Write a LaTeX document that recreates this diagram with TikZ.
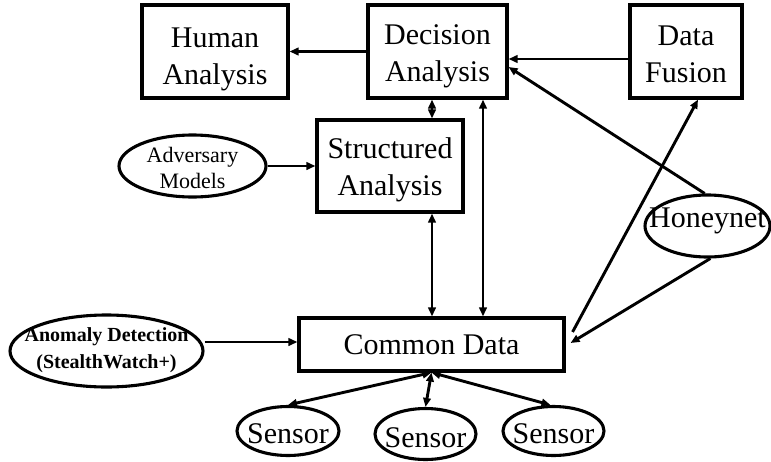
\documentclass[tikz,border=0pt]{standalone}
\usepackage{fontspec}
\setmainfont{Liberation Serif}
\usetikzlibrary{shapes.geometric,arrows.meta,calc}
\begin{document}
\begin{tikzpicture}[x=1pt,y=-1pt,
  box/.style={draw, line width=3.1pt, rectangle, align=center, inner sep=0pt, font=\fontsize{30}{37}\selectfont},
  ell/.style={draw, line width=3.1pt, ellipse, inner sep=0pt},
  lbl/.style={align=center, inner sep=0pt},
  arr/.style={line width=2.9pt, -{Triangle[length=9pt,width=7.5pt]}},
  biarr/.style={line width=2.9pt, {Triangle[length=9pt,width=7.5pt]}-{Triangle[length=9pt,width=7.5pt]}},
]
\fill[white] (0,0) rectangle (771,461);
\useasboundingbox (0,0) rectangle (771,461);

% boxes
\node[box, minimum width=146pt, minimum height=93pt] (hum) at (215,51.5) {\rule{0pt}{36pt}Human\\Analysis\rule[-6pt]{0pt}{6pt}};
\node[box, minimum width=139pt, minimum height=93pt] (dec) at (437.5,51.5) {\rule{0pt}{30pt}Decision\\Analysis\rule[-6pt]{0pt}{6pt}};
\node[box, minimum width=112pt, minimum height=93pt] (fus) at (686,51.5) {\rule{0pt}{30pt}Data\\Fusion\rule[-6pt]{0pt}{6pt}};
\node[box, minimum width=146pt, minimum height=92pt] (str) at (390,166) {\rule{0pt}{29pt}Structured\\Analysis\rule[-6pt]{0pt}{6pt}};
\node[box, minimum width=265pt, minimum height=53pt] (cd) at (431.5,344.5) {Common Data};

% ellipses
\node[ell, minimum width=147pt, minimum height=62pt] (adv) at (192.5,166) {};
\node[lbl, font=\fontsize{22}{26}\selectfont] (advT) at (192.5,168) {Adversary\\Models};
\node[ell, minimum width=125pt, minimum height=62pt] (hon) at (707.5,226) {};
\node[lbl, font=\fontsize{30}{36}\selectfont] (honT) at (707.5,220.5) {Honeynet};
\node[ell, minimum width=193pt, minimum height=72pt] (ano) at (106.5,351) {};
\node[lbl, font=\bfseries\fontsize{20}{27}\selectfont] (anoT) at (106.5,350.5) {Anomaly Detection\\(StealthWatch+)};
\node[ell, minimum width=102pt, minimum height=49pt] (s1) at (288,431) {};
\node[ell, minimum width=101pt, minimum height=51pt] (s2) at (425.5,434) {};
\node[ell, minimum width=101pt, minimum height=49pt] (s3) at (553.5,431) {};
\node[lbl, font=\fontsize{30}{36}\selectfont] (s1T) at (288,433.5) {Sensor};
\node[lbl, font=\fontsize{30}{36}\selectfont] (s2T) at (425.5,437.5) {Sensor};
\node[lbl, font=\fontsize{30}{36}\selectfont] (s3T) at (553.5,433.5) {Sensor};

% connectors
\draw[arr] (dec.west) -- (hum.east);
\draw[arr] ([yshift=-7.5pt]fus.west) -- ([yshift=-7.5pt]dec.east);
\draw[biarr] ([xshift=42pt]str.north) -- ([xshift=42pt]str.north |- dec.south);
\draw[biarr] ([xshift=42pt]str.south) -- ([xshift=42pt]str.south |- cd.north);
\draw[biarr] ([xshift=45.5pt]dec.south) -- ([xshift=45.5pt]dec.south |- cd.north);
\draw[arr] (adv.east) -- (str.west);
\draw[arr] (hon.95) -- ([yshift=-15.5pt]dec.east);
\draw[arr] (hon.275) -- ([xshift=5pt,yshift=1.5pt]cd.east);
\draw[arr] ([xshift=7pt,yshift=12.5pt]cd.east) -- ([xshift=12pt]fus.south);
\draw[arr] ([yshift=9pt]ano.east) -- ([yshift=2.5pt]cd.west);
\draw[biarr] (cd.south) -- (s1.north);
\draw[biarr] (cd.south) -- (s2.north);
\draw[biarr] (cd.south) -- ([xshift=-3pt]s3.north);
\end{tikzpicture}
\end{document}
